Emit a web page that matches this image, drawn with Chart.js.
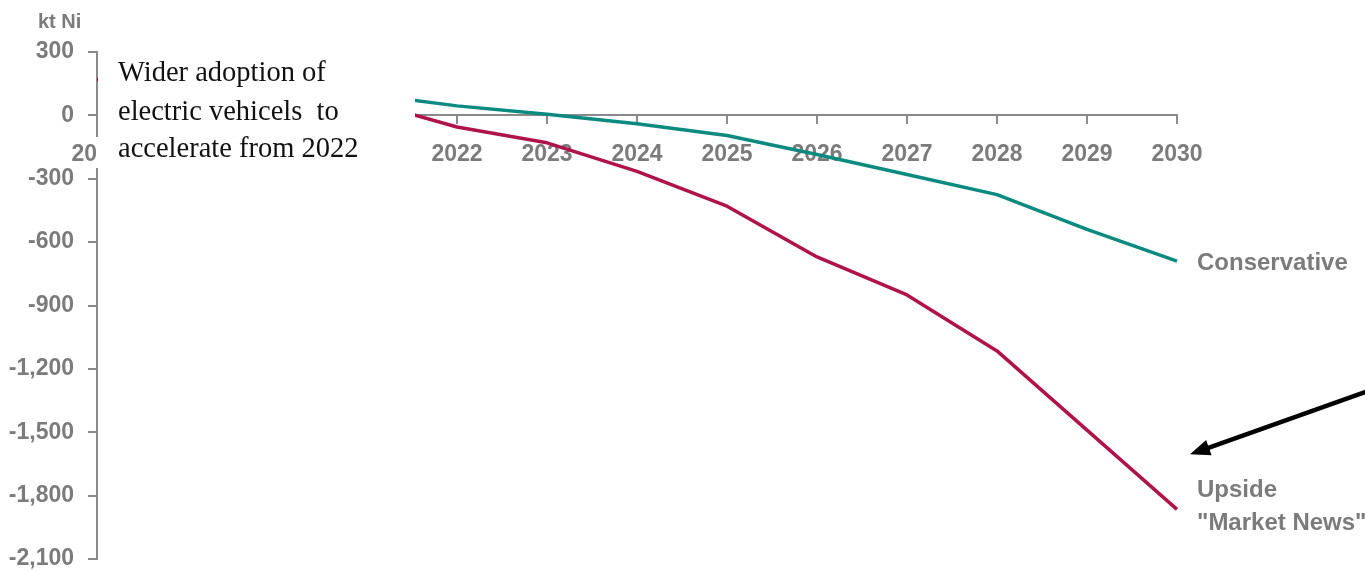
<!DOCTYPE html>
<html>
<head>
<meta charset="utf-8">
<title>Nickel market balance scenarios</title>
<script src="https://cdn.jsdelivr.net/npm/chart.js@4/dist/chart.umd.min.js"></script>
<style>
  html, body { margin: 0; padding: 0; background: #ffffff; }
  #wrap { width: 1365px; height: 571px; position: relative; }
</style>
</head>
<body>
<div id="wrap"><canvas id="chart" width="1365" height="571"></canvas></div>
<script>
// Market balance, kt Ni, by year
const years = ['2018', '2019', '2020', '2021', '2022', '2023', '2024', '2025', '2026', '2027', '2028', '2029', '2030'];
const conservative = [170, 160, 140, 100, 45, 5, -40, -95, -185, -280, -375, -540, -690];
const upside = [170, 150, 115, 65, -55, -130, -265, -430, -670, -850, -1115, -1490, -1865];

// Value axis range
const yMin = -2100;
const yMax = 300;
const yStep = 300;

const unitLabel = 'kt Ni';
const seriesNames = ['Upside', 'Conservative'];
const upsideLabelLines = ['Upside', '"Market News"'];
const noteLines = ['Wider adoption of', 'electric vehicels  to', 'accelerate from 2022'];

const TEAL = '#0b8a80';
const RED = '#b0124a';
const GREY = '#7b7b7b';
const AXIS = '#8a8a8a';
const SANS = '"Liberation Sans", Arial, sans-serif';
const SERIF = '"Liberation Serif", "Times New Roman", serif';

// Series end labels, explanatory note and pointer arrow
const annotations = {
  id: 'annotations',
  afterDatasetsDraw(chart) {
    const ctx = chart.ctx;
    const area = chart.chartArea;
    const metaUp = chart.getDatasetMeta(0);
    const metaCons = chart.getDatasetMeta(1);
    const upEnd = metaUp.data[metaUp.data.length - 1];
    const consEnd = metaCons.data[metaCons.data.length - 1];

    ctx.save();
    ctx.fillStyle = GREY;
    ctx.font = 'bold 24px ' + SANS;
    ctx.textAlign = 'left';
    ctx.textBaseline = 'middle';
    ctx.fillText(seriesNames[1], consEnd.x + 20, consEnd.y + 2);
    ctx.fillText(upsideLabelLines[0], upEnd.x + 20, upEnd.y - 19);
    ctx.fillText(upsideLabelLines[1], upEnd.x + 20, upEnd.y + 14);

    // unit label above the value axis
    ctx.font = 'bold 20px ' + SANS;
    ctx.fillText(unitLabel, 38, area.top - 30);

    // pointer arrow towards the upside scenario
    const tipX = upEnd.x + 13, tipY = upEnd.y - 55;
    const startX = chart.width + 2, startY = tipY - 63;
    const ang = Math.atan2(tipY - startY, tipX - startX);
    const headLen = 20, headW = 8;
    ctx.strokeStyle = '#000000';
    ctx.fillStyle = '#000000';
    ctx.lineWidth = 4.5;
    ctx.beginPath();
    ctx.moveTo(startX, startY);
    ctx.lineTo(tipX - Math.cos(ang) * (headLen - 2), tipY - Math.sin(ang) * (headLen - 2));
    ctx.stroke();
    ctx.beginPath();
    ctx.moveTo(tipX, tipY);
    ctx.lineTo(tipX - Math.cos(ang) * headLen - Math.sin(ang) * headW,
               tipY - Math.sin(ang) * headLen + Math.cos(ang) * headW);
    ctx.lineTo(tipX - Math.cos(ang) * headLen + Math.sin(ang) * headW,
               tipY - Math.sin(ang) * headLen - Math.cos(ang) * headW);
    ctx.closePath();
    ctx.fill();

    // note box laid over the early years
    ctx.fillStyle = '#ffffff';
    ctx.fillRect(area.left + 1, area.top + 3, 317, 131);
    ctx.fillRect(area.left - 1, 137, 3, 31);

    // keep the upper part of the value axis crisp next to the note
    ctx.strokeStyle = AXIS;
    ctx.lineWidth = 2;
    ctx.beginPath();
    ctx.moveTo(area.left, area.top);
    ctx.lineTo(area.left, 137);
    ctx.stroke();

    // the first upside segment stays visible just left of the note box
    const p0 = metaUp.data[0], p1 = metaUp.data[1];
    ctx.save();
    ctx.beginPath();
    ctx.rect(0, 0, area.left + 1, chart.height);
    ctx.clip();
    ctx.strokeStyle = RED;
    ctx.lineWidth = 3.5;
    ctx.beginPath();
    ctx.moveTo(p0.x, p0.y);
    ctx.lineTo(p1.x, p1.y);
    ctx.stroke();
    ctx.restore();

    ctx.fillStyle = '#111111';
    ctx.font = '28.5px ' + SERIF;
    ctx.textAlign = 'left';
    ctx.textBaseline = 'alphabetic';
    const baselines = [81, 120, 157];
    noteLines.forEach((t, i) => ctx.fillText(t, area.left + 21, baselines[i]));
    ctx.restore();
  }
};

new Chart(document.getElementById('chart'), {
  type: 'line',
  data: {
    labels: years,
    datasets: [
      {
        label: seriesNames[0],
        data: upside,
        borderColor: RED,
        borderWidth: 3.5,
        pointRadius: 0,
        tension: 0,
        borderJoinStyle: 'round',
        fill: false
      },
      {
        label: seriesNames[1],
        data: conservative,
        borderColor: TEAL,
        borderWidth: 3.5,
        pointRadius: 0,
        tension: 0,
        borderJoinStyle: 'round',
        fill: false
      }
    ]
  },
  options: {
    responsive: false,
    animation: false,
    events: [],
    layout: { padding: { top: 52, right: 188, bottom: 12, left: 0 } },
    plugins: {
      legend: { display: false },
      tooltip: { enabled: false },
      title: { display: false }
    },
    scales: {
      x: {
        type: 'category',
        position: { y: 0 },
        offset: false,
        afterFit: s => { s.height = 0; s.paddingLeft = 0; s.paddingRight = 0; },
        grid: {
          display: true,
          drawOnChartArea: false,
          drawTicks: true,
          tickLength: 8,
          color: AXIS,
          lineWidth: 2
        },
        border: { display: true, color: AXIS, width: 2 },
        ticks: {
          color: GREY,
          font: { family: SANS, size: 23, weight: 'bold', lineHeight: 1.2 },
          padding: 17,
          maxRotation: 0,
          autoSkip: false
        }
      },
      y: {
        min: yMin,
        max: yMax,
        afterFit: s => { s.width = 97; s.paddingTop = 0; s.paddingBottom = 0; },
        grid: {
          display: true,
          drawOnChartArea: false,
          drawTicks: true,
          tickLength: 9,
          color: AXIS,
          lineWidth: 2
        },
        border: { display: true, color: AXIS, width: 2 },
        ticks: {
          stepSize: yStep,
          color: GREY,
          font: { family: SANS, size: 23, weight: 'bold', lineHeight: 1.2 },
          padding: 14,
          callback: v => Number(v).toLocaleString('en-US')
        }
      }
    }
  },
  plugins: [annotations]
});
</script>
</body>
</html>
